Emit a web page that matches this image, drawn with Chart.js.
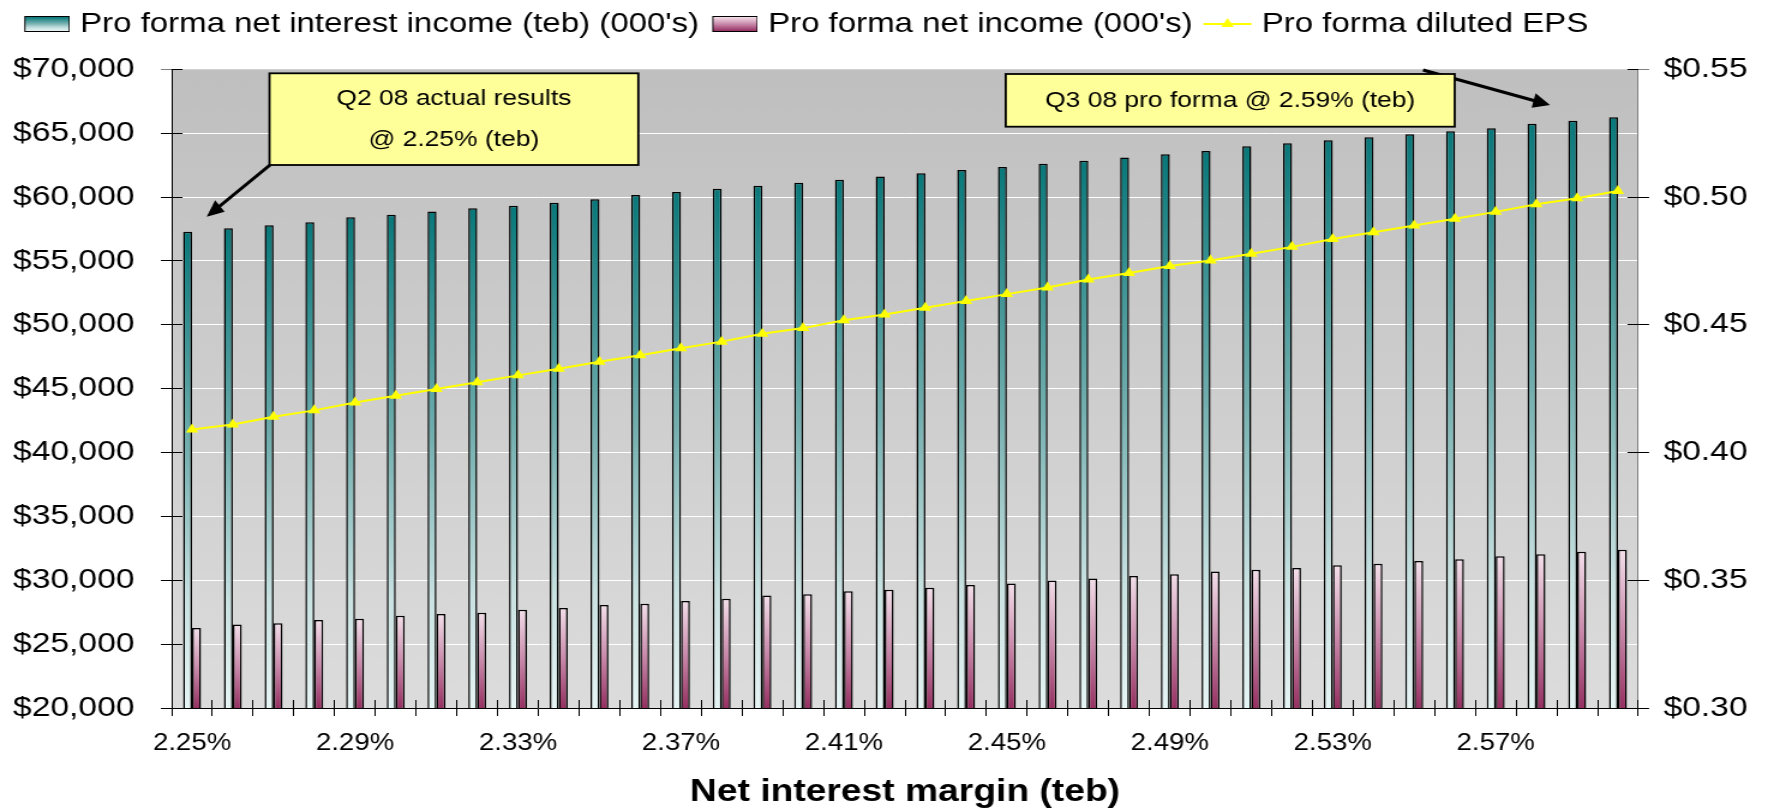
<!DOCTYPE html>
<html><head><meta charset="utf-8">
<script src="https://cdn.jsdelivr.net/npm/chart.js@4.4.1/dist/chart.umd.min.js"></script>
<style>
html,body{margin:0;padding:0;background:#fff;overflow:hidden;width:1768px;height:808px;}
#wrap{position:absolute;left:0;top:0;width:1473px;height:808px;transform:scaleX(1.2002716);transform-origin:0 0;}
canvas{display:block;}
</style></head><body>
<div id="wrap"><canvas id="c" width="1473" height="808"></canvas></div>
<script>
const categories = ['2.25%','2.26%','2.27%','2.28%','2.29%','2.30%','2.31%','2.32%','2.33%','2.34%','2.35%','2.36%',
  '2.37%','2.38%','2.39%','2.40%','2.41%','2.42%','2.43%','2.44%','2.45%','2.46%','2.47%','2.48%',
  '2.49%','2.50%','2.51%','2.52%','2.53%','2.54%','2.55%','2.56%','2.57%','2.58%','2.59%','2.60%'];
const netInterestIncome = [57290,57550,57790,58020,58410,58620,58860,59120,59320,59560,59820,60160,
  60400,60640,60880,61120,61360,61600,61870,62110,62350,62600,62850,63100,
  63340,63600,63970,64210,64440,64680,64910,65150,65380,65740,65980,66240];
const netIncome = [26270,26540,26640,26880,26990,27230,27360,27460,27700,27830,28060,28170,
  28380,28560,28800,28900,29130,29260,29420,29620,29740,29980,30130,30330,
  30480,30680,30830,30960,31180,31300,31500,31640,31880,32030,32240,32390];
const dilutedEPS = [0.409,0.411,0.414,0.4165,0.4196,0.4222,0.4249,0.4275,0.4302,0.4328,0.4355,0.4381,
  0.4408,0.4434,0.4465,0.4487,0.4518,0.4540,0.4567,0.4593,0.4620,0.4646,0.4677,0.4703,
  0.4730,0.4752,0.4778,0.4805,0.4836,0.4862,0.4889,0.4915,0.4942,0.4972,0.4995,0.5024];
const seriesNames = ["Pro forma net interest income (teb) (000's)", "Pro forma net income (000's)", "Pro forma diluted EPS"];
const xTickLabels = ['2.25%','2.29%','2.33%','2.37%','2.41%','2.45%','2.49%','2.53%','2.57%'];
const leftTickValues = [20000,25000,30000,35000,40000,45000,50000,55000,60000,65000,70000];
const rightTickValues = [0.30,0.35,0.40,0.45,0.50,0.55];
const xTitle = 'Net interest margin (teb)';
const note1Lines = ['Q2 08 actual results', '@ 2.25% (teb)'];
const note2Lines = ['Q3 08 pro forma @ 2.59% (teb)'];

const S = 1768 / 1473;           // horizontal stretch of the whole picture
const FONT = "'Liberation Sans', Arial, Helvetica, sans-serif";
const X = x => x / S;            // full-size px -> canvas px (horizontal)

const TEAL_STOPS = [[0,'#08787a'],[0.45,'#72aeae'],[0.78,'#cae2e2'],[1,'#e6f4f4']];
const PINK_STOPS = [[0,'#f3dfea'],[0.5,'#c98aab'],[1,'#963062']];

function barGradient(c, stops) {
  const chart = c.chart, area = chart.chartArea;
  if (!area || c.type !== 'data' || c.raw == null) return stops[0][1];
  const y = chart.scales.y.getPixelForValue(c.raw);
  const g = chart.ctx.createLinearGradient(0, y, 0, area.bottom);
  stops.forEach(s => g.addColorStop(s[0], s[1]));
  return g;
}

function makeBoxIcon(stops) {
  const cv = document.createElement('canvas'); cv.width = 44; cv.height = 16;
  const c = cv.getContext('2d');
  const g = c.createLinearGradient(0, 1, 0, 15);
  stops.forEach(s => g.addColorStop(s[0], s[1]));
  c.fillStyle = g; c.fillRect(6.5, 0.5, 37, 15);
  c.strokeStyle = '#000'; c.lineWidth = 1; c.strokeRect(6.5, 0.5, 37, 15);
  return cv;
}
function makeLineIcon() {
  const cv = document.createElement('canvas'); cv.width = 50; cv.height = 16;
  const c = cv.getContext('2d');
  c.strokeStyle = '#ffff00'; c.lineWidth = 2;
  c.beginPath(); c.moveTo(7, 8); c.lineTo(47, 8); c.stroke();
  const r = 6, cx = 27, cy = 8;
  c.fillStyle = '#ffff00'; c.beginPath();
  for (let k = 0; k < 3; k++) { const a = k * 2 * Math.PI / 3; c.lineTo(cx + Math.sin(a) * r, cy - Math.cos(a) * r); }
  c.closePath(); c.fill();
  return cv;
}
const icons = [makeBoxIcon(TEAL_STOPS), makeBoxIcon(PINK_STOPS), makeLineIcon()];

function drawArrow(ctx, x1, y1, x2, y2) {
  const dx = x2 - x1, dy = y2 - y1, L = Math.hypot(dx, dy), ux = dx / L, uy = dy / L;
  const hl = 17, hw = 7.5;
  const bx = x2 - ux * hl, by = y2 - uy * hl;
  ctx.strokeStyle = '#000'; ctx.lineWidth = 3; ctx.lineCap = 'butt';
  ctx.beginPath(); ctx.moveTo(X(x1), y1); ctx.lineTo(X(bx + ux * 2), by + uy * 2); ctx.stroke();
  ctx.fillStyle = '#000'; ctx.beginPath();
  ctx.moveTo(X(x2), y2);
  ctx.lineTo(X(bx - uy * hw), by + ux * hw);
  ctx.lineTo(X(bx + uy * hw), by - ux * hw);
  ctx.closePath(); ctx.fill();
}
function drawNote(ctx, x1, y1, x2, y2, lines, ys) {
  ctx.fillStyle = '#ffff99';
  ctx.fillRect(X(x1), y1, X(x2) - X(x1), y2 - y1);
  ctx.strokeStyle = '#000'; ctx.lineWidth = 1.8;
  ctx.strokeRect(X(x1), y1, X(x2) - X(x1), y2 - y1);
  ctx.fillStyle = '#000'; ctx.font = '22px ' + FONT;
  ctx.textAlign = 'center'; ctx.textBaseline = 'middle';
  lines.forEach((t, i) => ctx.fillText(t, X((x1 + x2) / 2), ys[i]));
}

const chartPlugin = {
  id: 'refStyle',
  afterInit(chart) {
    const lg = chart.legend; if (!lg) return;
    const orig = lg.fit;
    lg.fit = function () { orig.call(this); this.height = 69.3; };
  },
  beforeDraw(chart) {
    const {ctx, chartArea: a} = chart;
    const g = ctx.createLinearGradient(0, a.top, 0, a.bottom);
    g.addColorStop(0, '#bfbfbf'); g.addColorStop(1, '#dcdcdc');
    ctx.save(); ctx.fillStyle = g; ctx.fillRect(a.left, a.top, a.right - a.left, a.bottom - a.top); ctx.restore();
  },
  beforeDatasetsDraw(chart) {
    const {ctx, chartArea: a, scales} = chart;
    const al = p => Math.round(p - 0.5) + 0.5;
    ctx.save(); ctx.lineWidth = 1; ctx.strokeStyle = '#000'; ctx.beginPath();
    leftTickValues.forEach(v => { const y = al(scales.y.getPixelForValue(v)); ctx.moveTo(a.left, y); ctx.lineTo(a.left + 9, y); });
    rightTickValues.forEach(v => { const y = al(scales.y1.getPixelForValue(v)); ctx.moveTo(a.right - 9, y); ctx.lineTo(a.right, y); });
    const xs = scales.x, half = (xs.getPixelForValue(1) - xs.getPixelForValue(0)) / 2;
    for (let i = 0; i <= categories.length; i++) {
      const x = al(xs.getPixelForValue(i) - half);
      ctx.moveTo(x, a.bottom - 8); ctx.lineTo(x, a.bottom);
    }
    ctx.stroke(); ctx.restore();
  },
  afterDatasetsDraw(chart) {
    const ctx = chart.ctx;
    ctx.save();
    drawArrow(ctx, 270, 165, 206.7, 216.7);
    drawArrow(ctx, 1423, 70, 1550, 105);
    drawNote(ctx, 269.5, 73.3, 638.3, 165, note1Lines, [99, 140]);
    drawNote(ctx, 1005.7, 74, 1454.7, 126.7, note2Lines, [101]);
    ctx.restore();
  }
};

Chart.defaults.font.family = FONT;
Chart.defaults.color = '#000';

const topLeft = leftTickValues[leftTickValues.length - 1], botLeft = leftTickValues[0];

new Chart(document.getElementById('c'), {
  type: 'bar',
  data: {
    labels: categories,
    datasets: [
      { type: 'bar', label: seriesNames[0], data: netInterestIncome, yAxisID: 'y',
        backgroundColor: c => barGradient(c, TEAL_STOPS), borderColor: '#000', borderWidth: 1.5,
        categoryPercentage: 0.44, barPercentage: 1, order: 1 },
      { type: 'bar', label: seriesNames[1], data: netIncome, yAxisID: 'y',
        backgroundColor: c => barGradient(c, PINK_STOPS), borderColor: '#000', borderWidth: 1.5,
        categoryPercentage: 0.44, barPercentage: 1, order: 1 },
      { type: 'line', label: seriesNames[2], data: dilutedEPS, yAxisID: 'y1',
        borderColor: '#ffff00', borderWidth: 2, tension: 0, fill: false,
        pointStyle: 'triangle', pointRadius: 6, pointHoverRadius: 6,
        pointBackgroundColor: '#ffff00', pointBorderColor: '#ffff00', pointBorderWidth: 0, order: 0 }
    ]
  },
  options: {
    responsive: false, animation: false, devicePixelRatio: 1,
    layout: { padding: { left: 9.2, top: 0, right: 0, bottom: 0 } },
    plugins: {
      tooltip: { enabled: false },
      legend: {
        position: 'top', align: 'start',
        labels: {
          usePointStyle: true, pointStyleWidth: 33.5, padding: 10.25, color: '#000',
          font: { family: FONT, size: 27.5 },
          generateLabels: () => seriesNames.map((n, i) => ({
            text: n, pointStyle: icons[i], datasetIndex: i, hidden: false,
            fillStyle: 'rgba(0,0,0,0)', strokeStyle: 'rgba(0,0,0,0)', lineWidth: 0, fontColor: '#000'
          }))
        }
      }
    },
    scales: {
      x: {
        offset: true,
        grid: { offset: true, drawOnChartArea: false, tickLength: 8, tickColor: '#000', lineWidth: 1 },
        border: { color: '#000', width: 1 },
        ticks: { autoSkip: false, maxRotation: 0, minRotation: 0, padding: 14, color: '#000',
          font: { family: FONT, size: 23 },
          callback: (v, i) => xTickLabels.includes(categories[i]) ? categories[i] : '' },
        title: { display: true, text: xTitle, color: '#000',
          font: { family: FONT, size: 31, weight: 'bold', lineHeight: 1 }, padding: { top: 0, bottom: 0 } },
        afterFit: s => { s.height = 100; }
      },
      y: {
        position: 'left', min: botLeft, max: topLeft,
        afterBuildTicks: s => { s.ticks = leftTickValues.map(v => ({ value: v })); },
        grid: {
          color: c => (c.tick && (c.tick.value === topLeft || c.tick.value === botLeft)) ? 'rgba(0,0,0,0)' : '#ffffff',
          tickColor: c => (c.tick && c.tick.value === topLeft) ? '#808080' : '#000',
          tickLength: 9, lineWidth: 1
        },
        border: { color: '#000', width: 1 },
        ticks: { padding: 22, color: '#000', font: { family: FONT, size: 28 },
          callback: v => '$' + Number(v).toLocaleString('en-US') },
        afterFit: s => { s.width = 133.85; }
      },
      y1: {
        position: 'right', min: rightTickValues[0], max: rightTickValues[rightTickValues.length - 1],
        afterBuildTicks: s => { s.ticks = rightTickValues.map(v => ({ value: v })); },
        grid: { drawOnChartArea: false, tickLength: 9,
          tickColor: c => (c.index === rightTickValues.length - 1) ? '#808080' : '#000' },
        border: { color: '#808080', width: 1 },
        ticks: { padding: 12, color: '#000', font: { family: FONT, size: 28 },
          callback: v => '$' + Number(v).toFixed(2) },
        afterFit: s => { s.width = 1473 - 1364.95; }
      }
    }
  },
  plugins: [chartPlugin]
});
</script>
</body></html>
